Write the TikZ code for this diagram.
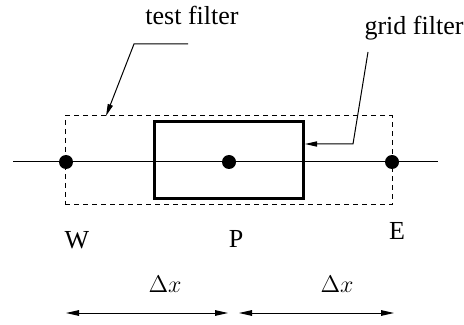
\documentclass[tikz,border=0pt]{standalone}
\usepackage{fontspec}
\setmainfont{Liberation Serif}
\usetikzlibrary{arrows.meta}
\begin{document}
\begin{tikzpicture}[x=0.5pt,y=-0.5pt,
  every node/.style={font=\fontsize{13}{15}\selectfont, inner sep=0pt},
  thin line/.style={line width=0.5pt},
  dotnode/.style={circle, fill=black, minimum size=7pt, inner sep=0pt},
  lbl/.style={anchor=base},
  tip/.style={-{Triangle[length=6pt,width=2.6pt]}},
  dtip/.style={{Triangle[length=6.5pt,width=2.8pt]}-{Triangle[length=6.5pt,width=2.8pt]}}]
\useasboundingbox (0,0) rectangle (464,325);
% dashed test filter box
\node[draw, thin line, dash pattern=on 2.5pt off 2pt, minimum width=163.5pt, minimum height=44.5pt] (testbox) at (228.5,160.5) {};
% solid grid filter box
\node[draw, line width=1.5pt, minimum width=74.5pt, minimum height=38.5pt] (gridbox) at (228.5,160.5) {};
% axis
\coordinate (axL) at (13,162);
\coordinate (axR) at (438,162);
\draw[thin line] (axL) -- (axR);
% dots
\node[dotnode] (W) at (66,162) {};
\node[dotnode] (P) at (229,162) {};
\node[dotnode] (E) at (392,162) {};
% labels
\node[lbl] (tW) at (77,249) {W};
\node[lbl] (tP) at (236,247) {P};
\node[lbl] (tE) at (397,239) {E};
\node[lbl] (tf) at (192,25) {test filter};
\node[lbl] (gf) at (414,35) {grid filter};
% leaders
\coordinate (tf1) at (188,44);
\coordinate (tf2) at (134,44);
\coordinate (tfT) at (106,116);
\draw[thin line, tip] (tf1) -- (tf2) -- (tfT);
\coordinate (gf1) at (368,52);
\coordinate (gf2) at (353,144);
\coordinate (gfT) at (305,144);
\draw[thin line, tip] (gf1) -- (gf2) -- (gfT);
% delta x
\node[lbl] (d1) at (165,292) {$\Delta x$};
\node[lbl] (d2) at (337,292) {$\Delta x$};
\coordinate (a1) at (66,313);
\coordinate (a2) at (228,313);
\coordinate (a3) at (239,313);
\coordinate (a4) at (394,313);
\draw[thin line, dtip] (a1) -- (a2);
\draw[thin line, dtip] (a3) -- (a4);
\end{tikzpicture}
\end{document}
